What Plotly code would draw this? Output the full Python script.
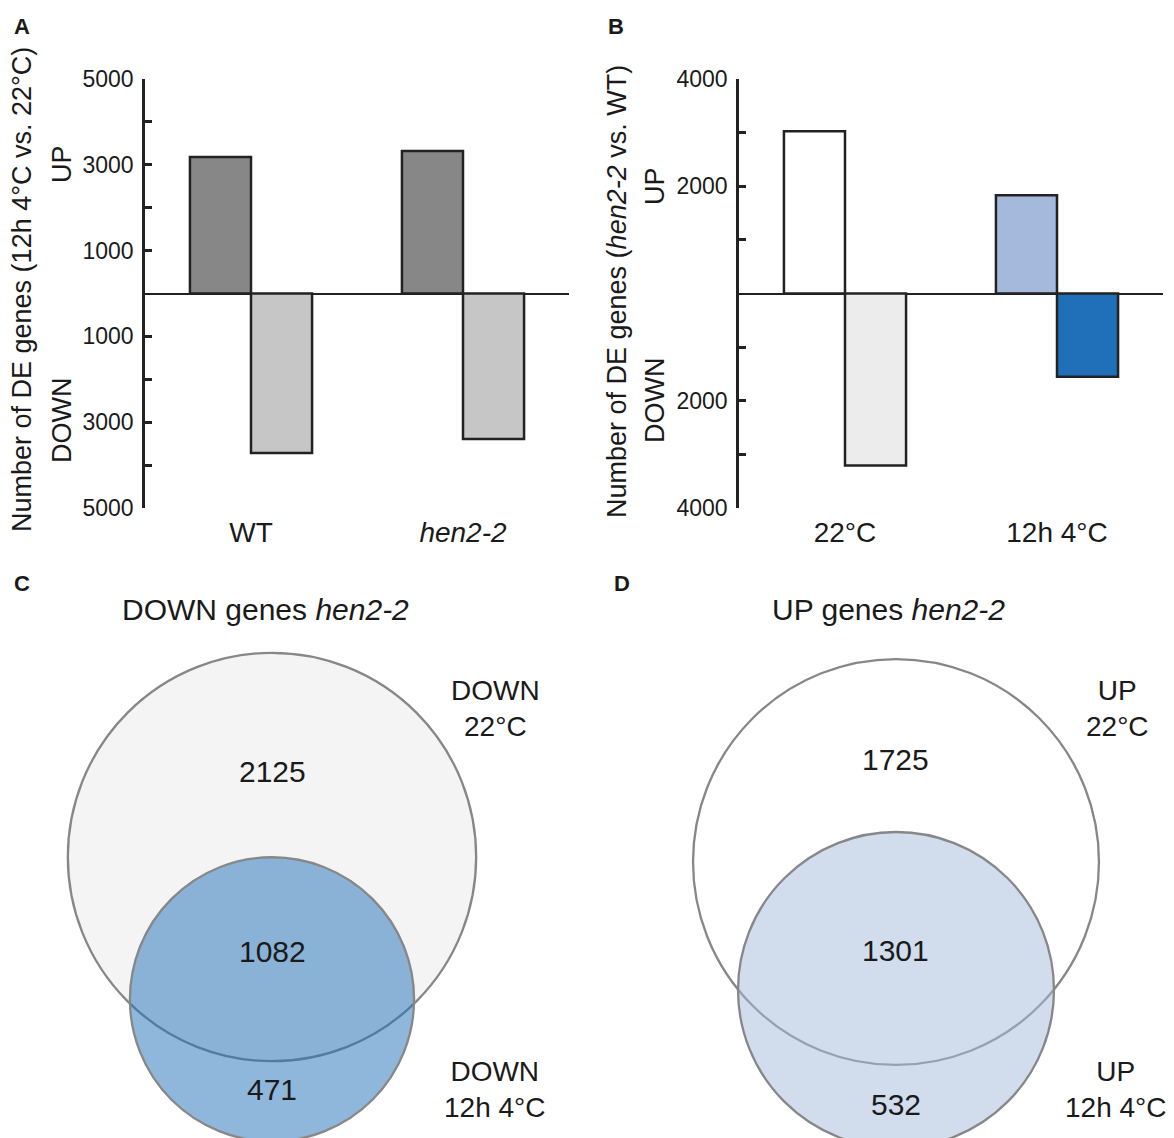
import math
import plotly.graph_objects as go

W, H = 1174, 1138

# ---------------- data ----------------
# Panel A: DE genes 12h 4°C vs 22°C
a_categories = ["WT", "<i>hen2-2</i>"]
a_up = [3180, 3320]
a_down = [3720, 3390]

# Panel B: DE genes hen2-2 vs WT
b_categories = ["22°C", "12h 4°C"]
b_up = [3026, 1833]
b_down = [3207, 1553]

# Panel C Venn (DOWN genes hen2-2)
c_only_22 = 2125
c_both = 1082
c_only_4 = 471

# Panel D Venn (UP genes hen2-2)
d_only_22 = 1725
d_both = 1301
d_only_4 = 532

a_tickvals = [5000, 4000, 3000, 2000, 1000, -1000, -2000, -3000, -4000, -5000]
a_ticktext = ["5000", "", "3000", "", "1000", "1000", "", "3000", "", "5000"]
b_tickvals = [4000, 3000, 2000, 1000, -1000, -2000, -3000, -4000]
b_ticktext = ["4000", "", "2000", "", "", "2000", "", "4000"]

# ---------------- styles ----------------
FONT = "Liberation Sans, Arial, Helvetica, sans-serif"
TXT = "#1a1a1a"
EDGE = "#222222"
a_up_color = "#878787"
a_down_color = "#c6c6c6"
b_up_colors = ["#ffffff", "#a4b9db"]
b_down_colors = ["#ececec", "#1f70b8"]


def px(x):
    return x / W


def py(y):
    return 1 - y / H


BAR_W = 0.288

fig = go.Figure()

# Panel A bars
fig.add_trace(go.Bar(x=a_categories, y=a_up, width=BAR_W, offset=-BAR_W,
                     marker=dict(color=a_up_color, line=dict(color=EDGE, width=2.5)),
                     xaxis="x", yaxis="y", showlegend=False))
fig.add_trace(go.Bar(x=a_categories, y=[-v for v in a_down], width=BAR_W, offset=0,
                     marker=dict(color=a_down_color, line=dict(color=EDGE, width=2.5)),
                     xaxis="x", yaxis="y", showlegend=False))
# Panel B bars
fig.add_trace(go.Bar(x=b_categories, y=b_up, width=BAR_W, offset=-BAR_W,
                     marker=dict(color=b_up_colors, line=dict(color=EDGE, width=2.5)),
                     xaxis="x2", yaxis="y2", showlegend=False))
fig.add_trace(go.Bar(x=b_categories, y=[-v for v in b_down], width=BAR_W, offset=0,
                     marker=dict(color=b_down_colors, line=dict(color=EDGE, width=2.5)),
                     xaxis="x2", yaxis="y2", showlegend=False))

ydom = [py(508), py(79)]


def yaxis_def(rng, tv, tt, xdom_anchor):
    return dict(domain=ydom, range=rng, anchor=xdom_anchor, tickvals=tv, ticktext=tt,
                ticks="inside", ticklen=7, tickwidth=2.5, tickcolor=EDGE,
                showline=True, linecolor=EDGE, linewidth=2.5,
                zeroline=True, zerolinecolor=EDGE, zerolinewidth=2,
                showgrid=False, fixedrange=True, ticklabelstandoff=4, automargin=False,
                tickfont=dict(family=FONT, size=23, color=TXT))


def xaxis_def(dom, anchor):
    return dict(domain=dom, range=[-0.5, 1.5], anchor=anchor, showline=False,
                ticks="", showgrid=False, zeroline=False, ticklabelstandoff=5,
                automargin=False, fixedrange=True,
                tickfont=dict(family=FONT, size=28, color=TXT))


# ---------------- Venn geometry ----------------
def lens_area(r1, r2, d):
    if d >= r1 + r2:
        return 0.0
    if d <= abs(r1 - r2):
        return math.pi * min(r1, r2) ** 2
    a1 = r1 ** 2 * math.acos((d * d + r1 * r1 - r2 * r2) / (2 * d * r1))
    a2 = r2 ** 2 * math.acos((d * d + r2 * r2 - r1 * r1) / (2 * d * r2))
    a3 = 0.5 * math.sqrt((-d + r1 + r2) * (d + r1 - r2) * (d - r1 + r2) * (d + r1 + r2))
    return a1 + a2 - a3


def solve_d(r1, r2, target):
    lo, hi = abs(r1 - r2) + 1e-9, r1 + r2
    for _ in range(200):
        mid = (lo + hi) / 2
        if lens_area(r1, r2, mid) > target:
            lo = mid
        else:
            hi = mid
    return (lo + hi) / 2


def venn(only1, both, only2):
    n1 = only1 + both
    n2 = only2 + both
    r1 = math.sqrt(n1 / math.pi)
    r2 = math.sqrt(n2 / math.pi)
    d = solve_d(r1, r2, both)
    return r1, r2, d


shapes = []
annotations = []


def add_venn(axn, dom_px, center_px, scale, only1, both, only2, fill1, fill2, nudge):
    r1, r2, d = venn(only1, both, only2)
    x0p, x1p, y0p, y1p = dom_px
    cxp, cyp = center_px
    xr = [(x0p - cxp) / scale, (x1p - cxp) / scale]
    yr = [(cyp - y1p) / scale, (cyp - y0p) / scale]
    fig.update_layout(**{
        f"xaxis{axn}": dict(domain=[px(x0p), px(x1p)], range=xr, visible=False,
                            anchor=f"y{axn}", fixedrange=True, automargin=False),
        f"yaxis{axn}": dict(domain=[py(y1p), py(y0p)], range=yr, visible=False,
                            anchor=f"x{axn}", fixedrange=True, automargin=False),
    })
    xref, yref = f"x{axn}", f"y{axn}"
    shapes.append(dict(type="circle", xref=xref, yref=yref, x0=-r1, x1=r1, y0=-r1, y1=r1,
                       fillcolor=fill1, line=dict(color="#878787", width=2.3), layer="above"))
    shapes.append(dict(type="circle", xref=xref, yref=yref, x0=-r2, x1=r2,
                       y0=-d - r2, y1=-d + r2,
                       fillcolor=fill2, line=dict(color="#878787", width=2.3), layer="above"))
    # number labels
    top_small = -d + r2
    bottom_big = -r1
    bottom_small = -d - r2
    y_only1 = top_small + 0.42 * (r1 - top_small)
    y_both = (top_small + bottom_big) / 2 + nudge
    y_only2 = (bottom_big + bottom_small) / 2 + 0.6 + nudge
    for val, yy in [(only1, y_only1), (both, y_both), (only2, y_only2)]:
        annotations.append(dict(x=0, y=yy, xref=xref, yref=yref, text=str(val),
                                showarrow=False, xanchor="center", yanchor="middle",
                                font=dict(family=FONT, size=30, color=TXT)))


add_venn(3, (0, 590, 560, 1138), (272, 857), 6.39, c_only_22, c_both, c_only_4,
         "#f4f4f4", "rgba(31,112,184,0.5)", 1.2)
add_venn(4, (590, 1174, 560, 1138), (896, 862), 6.54, d_only_22, d_both, d_only_4,
         "#ffffff", "rgba(164,185,219,0.5)", -0.3)


def ann(x, y, text, size, angle=0, bold=False, xanchor="center"):
    t = f"<b>{text}</b>" if bold else text
    annotations.append(dict(x=px(x), y=py(y), xref="paper", yref="paper", text=t,
                            showarrow=False, textangle=angle, xanchor=xanchor,
                            yanchor="middle", font=dict(family=FONT, size=size, color=TXT)))


# panel letters
ann(22, 27, "A", 22, bold=True)
ann(616, 27, "B", 22, bold=True)
ann(22, 583, "C", 22, bold=True)
ann(622, 583, "D", 22, bold=True)

# axis titles
ann(22, 290, "Number of DE genes (12h 4°C vs. 22°C)", 27, angle=-90)
ann(62, 164, "UP", 27, angle=-90)
ann(62, 421, "DOWN", 27, angle=-90)
ann(617, 292, "Number of DE genes (<i>hen2-2</i> vs. WT)", 27, angle=-90)
ann(655, 186, "UP", 27, angle=-90)
ann(655, 401, "DOWN", 27, angle=-90)

# venn titles
ann(265, 609, "DOWN genes <i>hen2-2</i>", 30)
ann(888, 609, "UP genes <i>hen2-2</i>", 30)

# venn set labels
ann(495, 708, "DOWN<br>22°C", 28)
ann(495, 1089, "DOWN<br>12h 4°C", 28)
ann(1117, 708, "UP<br>22°C", 28)
ann(1116, 1089, "UP<br>12h 4°C", 28)

fig.update_layout(
    width=W, height=H, margin=dict(l=0, r=0, t=0, b=0, pad=0, autoexpand=False),
    paper_bgcolor="white", plot_bgcolor="white",
    barmode="overlay", showlegend=False,
    font=dict(family=FONT, color=TXT),
    xaxis=xaxis_def([px(145), px(569)], "y"),
    yaxis=yaxis_def([-5000, 5000], a_tickvals, a_ticktext, "x"),
    xaxis2=xaxis_def([px(739), px(1163)], "y2"),
    yaxis2=yaxis_def([-4000, 4000], b_tickvals, b_ticktext, "x2"),
    shapes=shapes, annotations=annotations,
)

fig.write_html("out.html", config={"displayModeBar": False},
               post_script="document.body.style.margin='0';document.body.style.overflow='hidden';")
